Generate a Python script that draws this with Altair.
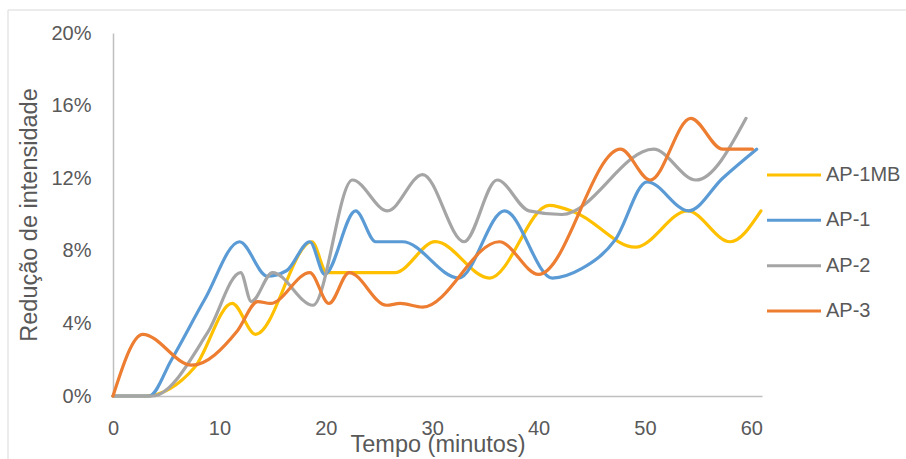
import altair as alt
import pandas as pd

series_names = ["AP-1MB", "AP-1", "AP-2", "AP-3"]
series_colors = ["#FFC000", "#5B9BD5", "#A5A5A5", "#ED7D31"]

# time (minutes) and reduction (%) per series
ap1mb_t = [0, 3.0, 7.7, 11.2, 13.4, 18.7, 20.1, 26.5, 30.3, 35.4, 41.0, 43.5, 49.1, 54.0, 58.0, 60.9]
ap1mb_v = [0, 0.0, 1.6, 5.1, 3.4, 8.5, 6.8, 6.8, 8.5, 6.5, 10.5, 10.1, 8.2, 10.2, 8.5, 10.2]

ap1_t = [0, 3.4, 5.5, 8.6, 11.9, 14.5, 16.3, 18.5, 19.9, 22.8, 24.7, 27.2, 32.5, 36.8, 41.3, 44.0, 47.2, 50.2, 54.1, 57.3, 60.5]
ap1_v = [0, 0.0, 2.0, 5.3, 8.5, 6.6, 6.9, 8.5, 6.7, 10.2, 8.5, 8.5, 6.5, 10.2, 6.5, 7.0, 8.6, 11.8, 10.2, 12.0, 13.6]

ap2_t = [0, 3.7, 8.9, 12.0, 13.0, 15.0, 18.8, 22.5, 25.8, 29.1, 33.0, 36.1, 39.1, 42.2, 50.8, 54.8, 59.5]
ap2_v = [0, 0.0, 3.5, 6.8, 5.2, 6.8, 5.0, 11.9, 10.2, 12.2, 8.5, 11.9, 10.2, 10.0, 13.6, 11.9, 15.3]

ap3_t = [0, 2.8, 7.4, 11.7, 13.6, 14.8, 18.5, 20.3, 22.2, 25.7, 27.0, 29.1, 36.3, 40.0, 47.7, 50.5, 54.3, 57.3, 60.1]
ap3_v = [0, 3.4, 1.7, 3.6, 5.2, 5.1, 6.8, 5.1, 6.8, 5.0, 5.1, 4.9, 8.5, 6.7, 13.6, 11.9, 15.3, 13.6, 13.6]

x_ticks = [0, 10, 20, 30, 40, 50, 60]
y_ticks = [0, 0.04, 0.08, 0.12, 0.16, 0.20]

rows = []
for name, ts, vs in zip(series_names,
                        [ap1mb_t, ap1_t, ap2_t, ap3_t],
                        [ap1mb_v, ap1_v, ap2_v, ap3_v]):
    for i, (t, v) in enumerate(zip(ts, vs)):
        rows.append({"series": name, "t": t, "value": v / 100.0, "i": i})
df = pd.DataFrame(rows)
legend_df = pd.DataFrame({"series": series_names})
frame_df = pd.DataFrame({"a": [0]})

FONT = "Liberation Sans"
GRAY_TXT = "#595959"

color_scale = alt.Scale(domain=series_names, range=series_colors)

lines = alt.Chart(df).mark_line(
    interpolate="monotone", strokeWidth=3.2, strokeCap="round", strokeJoin="round"
).encode(
    x=alt.X("t:Q", scale=alt.Scale(domain=[0, 61], nice=False),
            axis=alt.Axis(values=x_ticks, title="Tempo (minutos)", labelFlush=False,
                          labelPadding=22, titleY=55, titleBaseline="alphabetic")),
    y=alt.Y("value:Q", scale=alt.Scale(domain=[0, 0.2], nice=False),
            axis=alt.Axis(values=y_ticks, format=".0%", title="Redução de intensidade",
                          labelPadding=22, titleX=-77, titleBaseline="alphabetic")),
    color=alt.Color("series:N", scale=color_scale, legend=None),
    order=alt.Order("i:Q"),
)

leg_y = alt.Y("series:N", scale=alt.Scale(type="point", domain=series_names, range=[142, 278], padding=0), axis=None)

leg_rules = alt.Chart(legend_df).mark_rule(strokeWidth=3).encode(
    x=alt.value(654), x2=alt.value(708), y=leg_y,
    color=alt.Color("series:N", scale=color_scale, legend=None),
)
leg_text = alt.Chart(legend_df).mark_text(
    align="left", baseline="middle", font=FONT, fontSize=20, color=GRAY_TXT
).encode(x=alt.value(713), y=leg_y, text="series:N")

frame_top = alt.Chart(frame_df).mark_rule(color="#D9D9D9", strokeWidth=1).encode(
    x=alt.value(-105), x2=alt.value(800), y=alt.value(-23))
frame_left = alt.Chart(frame_df).mark_rule(color="#D9D9D9", strokeWidth=1).encode(
    x=alt.value(-105), y=alt.value(-23), y2=alt.value(440))

chart = alt.layer(lines, leg_rules, leg_text, frame_top, frame_left).resolve_scale(
    y="independent"
).properties(
    width=649, height=363,
    background="white",
    autosize=alt.AutoSizeParams(type="none"),
    padding={"left": 113, "top": 33, "right": 144, "bottom": 63},
).configure_view(stroke=None).configure_axis(
    domainColor="#BFBFBF", domainWidth=1.5, ticks=False, grid=False,
    labelFont=FONT, labelFontSize=20, labelColor=GRAY_TXT,
    titleFont=FONT, titleFontSize=23.5, titleColor=GRAY_TXT, titleFontWeight="normal",
)

chart.save("out.html", embed_options={"renderer": "svg", "actions": False})
